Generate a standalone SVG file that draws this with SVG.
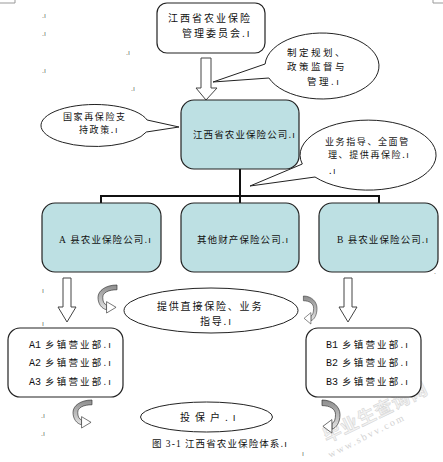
<svg xmlns="http://www.w3.org/2000/svg" width="443" height="462" viewBox="0 0 443 462">
<style>
.bg{fill:#fff}
.t{font-family:"Noto Sans CJK SC","Liberation Sans",sans-serif;font-size:9.5px;fill:#111;letter-spacing:1.1px}
.t9{font-family:"Noto Sans CJK SC","Liberation Sans",sans-serif;font-size:9px;fill:#111;letter-spacing:1.6px}
.t10{font-family:"Noto Sans CJK SC","Liberation Sans",sans-serif;font-size:10px;fill:#111;letter-spacing:2px}
.m{font-family:"Liberation Mono","Noto Sans CJK SC",monospace;font-size:10px;fill:#111}
.lat{font-family:"Liberation Serif","Noto Sans CJK SC",serif}
.mk{font-family:"Liberation Sans",sans-serif;font-size:7px;fill:#666}
.box{fill:#fff;stroke:#222;stroke-width:1.2}
.tbox{fill:#bde0e3;stroke:#222;stroke-width:1.2}
.bub{fill:#fff;stroke:#222;stroke-width:1}
.arr{fill:#fff;stroke:#444;stroke-width:1}
.band{fill:url(#g);stroke:#333;stroke-width:0.7}
.head{fill:#fff;stroke:#333;stroke-width:0.7}
.con{fill:none;stroke:#111;stroke-width:2}
</style>
<defs>
<linearGradient id="g" x1="0" y1="0" x2="0" y2="1">
<stop offset="0" stop-color="#8c8c8c"/>
<stop offset="1" stop-color="#e4e4e4"/>
</linearGradient>
<g id="ca">
<path class="band" d="M20,0 C8,0 0,6 0,13 C0,20 4,25 9,26 L9,21 C6,20 5,17 5,13 C5,8 11,5 20,5 Z"/>
<path class="head" d="M9,17.5 L19,23.5 L9,29.5 Z"/>
</g>
</defs>
<rect class="bg" x="0" y="0" width="443" height="462"/>

<!-- page marks -->
<path d="M0,3 H15 V0 M443,3 H433 V0" fill="none" stroke="#999" stroke-width="1"/>
<g id="marks">
<text class="mk" x="42" y="18">.ı</text>
<text class="mk" x="42" y="36">.ı</text>
<text class="mk" x="126" y="55">.ı</text>
<text class="mk" x="42" y="73">.ı</text>
<text class="mk" x="131" y="91">.ı</text>
<text class="mk" x="42" y="293">ı</text>
<text class="mk" x="42" y="326">ı</text>
<text class="mk" x="41" y="418">.ı</text>
<text class="mk" x="41" y="436">.ı</text>
<text class="mk" x="302" y="456">ı</text>
<text class="mk" x="434" y="274">.</text>
</g>

<!-- watermark -->
<g id="watermark">
<text x="327" y="443" transform="rotate(-26 327 443)" style="font-family:'Noto Sans CJK SC',sans-serif;font-size:18px;font-weight:bold;fill:#f3f3f3;stroke:#d2d2d2;stroke-width:0.5;letter-spacing:1px">毕业生查询网</text>
<text x="330" y="458" transform="rotate(-27 330 458)" style="font-family:'Liberation Serif',serif;font-size:10px;fill:#d2d2d2;letter-spacing:2px">www.sbvv.com</text>
</g>

<!-- connectors -->
<g id="connectors">
<path class="con" d="M240,169 V196 M101,203 V196 H379 V203 M240,196 V203"/>
<polygon class="arr" points="201,58 211,58 211,88 217,88 206,100 196,88 201,88"/>
<polygon class="arr" points="63,278 71,278 71,307 76,307 67,322 58,307 63,307"/>
<polygon class="arr" points="344,278 352,278 352,307 357,307 348,322 339,307 344,307"/>
<use href="#ca" transform="translate(98,285) scale(0.95,0.95)"/>
<use href="#ca" transform="translate(317,296) scale(-0.68,0.95)"/>
<use href="#ca" transform="translate(73,400) scale(0.95,0.95)"/>
<use href="#ca" transform="translate(340,400) scale(-0.9,1.12)"/>
</g>

<!-- nodes -->
<g id="committee">
<rect class="box" x="157" y="3" width="108" height="50" rx="10"/>
<text class="t10" x="168" y="22">江西省农业保险</text>
<text class="t10" x="182" y="37">管理委员会.ı</text>
</g>

<g id="bubble-plan">
<path class="bub" d="M265.1,64 L213,82 L268.9,78 A57 33 0 1 0 265.1,64 Z"/>
<text class="t10" x="287" y="55.5" style="font-size:9.5px;letter-spacing:2.5px">制定规划、</text>
<text class="t10" x="287" y="70" style="font-size:9.5px;letter-spacing:2.5px">政策监督与</text>
<text class="t10" x="307" y="84.5" style="font-size:9.5px;letter-spacing:2.5px">管理.ı</text>
</g>

<g id="company">
<rect class="tbox" x="181" y="100" width="118" height="69" rx="13"/>
<text class="t" x="193" y="138">江西省农业保险公司.ı</text>
</g>

<g id="bubble-state">
<path class="bub" d="M147.1,120 L179,127 L146.3,132 A54 21 0 1 1 147.1,120 Z"/>
<text class="t9" x="63" y="120">国家再保险支</text>
<text class="t9" x="79" y="133">持政策.ı</text>
</g>

<g id="bubble-guide">
<path class="bub" d="M302.3,164 L250,186 L315,177 A68 35 0 1 0 302.3,164 Z"/>
<text class="t9" x="325" y="144.5">业务指导、全面管</text>
<text class="t9" x="328" y="157.5">理、提供再保险.ı</text>
<text class="t9" x="329" y="174">.ı</text>
</g>

<g id="county-a">
<rect class="tbox" x="42" y="203" width="119" height="69" rx="13"/>
<text class="t" x="59" y="243"><tspan class="lat">A</tspan> 县农业保险公司.ı</text>
</g>

<g id="other">
<rect class="tbox" x="181" y="203" width="118" height="69" rx="13"/>
<text class="t" x="197" y="243">其他财产保险公司.ı</text>
</g>

<g id="county-b">
<rect class="tbox" x="319" y="203" width="119" height="69" rx="13"/>
<text class="t" x="337" y="243"><tspan class="lat">B</tspan> 县农业保险公司.ı</text>
</g>

<g id="direct">
<ellipse class="bub" cx="211" cy="310.5" rx="87" ry="22.5"/>
<text class="t10" x="157" y="310" style="letter-spacing:1.8px">提供直接保险、业务</text>
<text class="t10" x="200" y="325" style="letter-spacing:1.8px">指导.ı</text>
</g>

<g id="towns-a">
<rect class="box" x="8" y="328" width="115" height="69" rx="12"/>
<text class="m" x="29" y="348">A1<tspan x="45" class="t" style="letter-spacing:2.2px">乡镇营业部.ı</tspan></text>
<text class="m" x="29" y="366">A2<tspan x="45" class="t" style="letter-spacing:2.2px">乡镇营业部.ı</tspan></text>
<text class="m" x="29" y="385">A3<tspan x="45" class="t" style="letter-spacing:2.2px">乡镇营业部.ı</tspan></text>
</g>

<g id="towns-b">
<rect class="box" x="306" y="328" width="115" height="69" rx="12"/>
<text class="m" x="326" y="348">B1<tspan x="342" class="t" style="letter-spacing:2.2px">乡镇营业部.ı</tspan></text>
<text class="m" x="326" y="366">B2<tspan x="342" class="t" style="letter-spacing:2.2px">乡镇营业部.ı</tspan></text>
<text class="m" x="326" y="385">B3<tspan x="342" class="t" style="letter-spacing:2.2px">乡镇营业部.ı</tspan></text>
</g>

<g id="insured">
<ellipse class="bub" cx="206.5" cy="417" rx="66" ry="15"/>
<text class="t10" x="180" y="421" style="letter-spacing:5px">投保户.ı</text>
</g>

<text class="t" x="152" y="447">图 <tspan class="lat">3-1</tspan> 江西省农业保险体系.ı</text>
</svg>
